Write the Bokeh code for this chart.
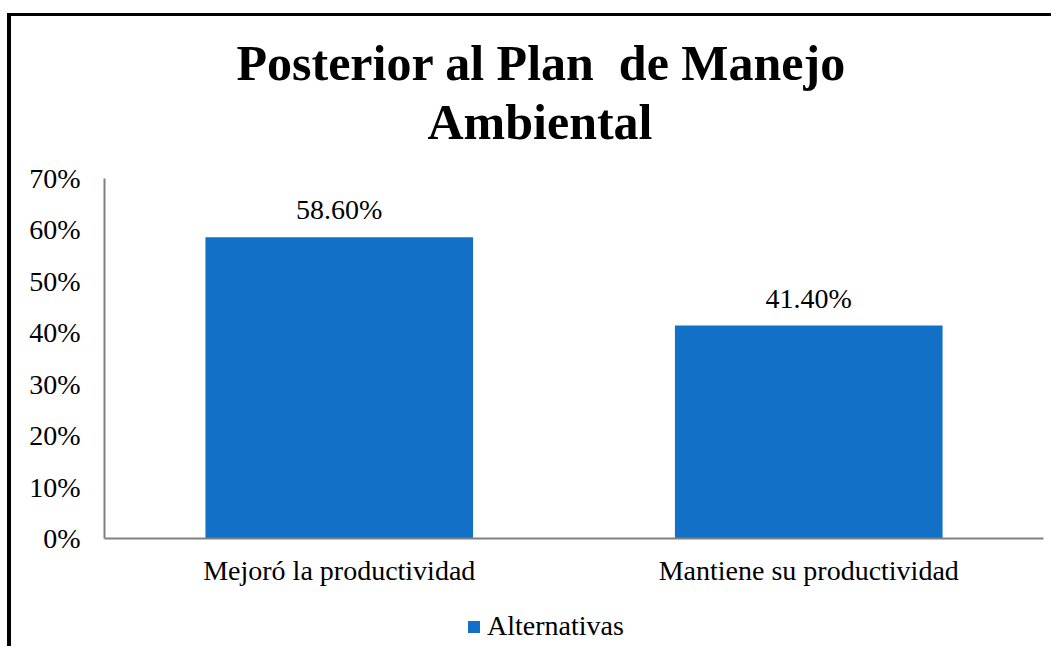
from bokeh.plotting import figure
from bokeh.layouts import column
from bokeh.models import (ColumnDataSource, FactorRange, Range1d, NumeralTickFormatter,
                          LabelSet, Legend, LegendItem, Title, FixedTicker)
from bokeh.embed import file_html
from bokeh.resources import INLINE

categories = ["Mejoró la productividad", "Mantiene su productividad"]
values = [0.586, 0.414]
series_name = "Alternativas"
y_ticks = [0.0, 0.1, 0.2, 0.3, 0.4, 0.5, 0.6, 0.7]

labels = ["{:.2f}%".format(v * 100) for v in values]
src = ColumnDataSource(dict(cat=categories, val=values, lab=labels))

FONT = "Liberation Serif"
BLUE = "#1270C6"
FS = "28px"

p = figure(x_range=FactorRange(*categories, range_padding=0), y_range=Range1d(0, 0.7),
           frame_width=939, frame_height=360, output_backend="svg", toolbar_location=None,
           min_border_left=93, min_border_right=8, min_border_top=162, min_border_bottom=60)

r = p.vbar(x="cat", top="val", width=0.57, source=src, fill_color=BLUE, line_color=None)

p.xgrid.visible = False
p.ygrid.visible = False
p.outline_line_color = None

for ax in (p.xaxis[0], p.yaxis[0]):
    ax.axis_line_color = "#808080"
    ax.axis_line_width = 2
    ax.major_tick_line_color = None
    ax.minor_tick_line_color = None
    ax.major_tick_out = 0
    ax.major_tick_in = 0
    ax.major_label_text_font = FONT
    ax.major_label_text_font_size = FS
    ax.major_label_text_color = "#000000"

p.yaxis[0].ticker = FixedTicker(ticks=y_ticks)
p.yaxis[0].formatter = NumeralTickFormatter(format="0%")
p.yaxis[0].major_label_standoff = 24
p.xaxis[0].major_label_standoff = 16

ls = LabelSet(x="cat", y="val", text="lab", source=src, text_align="center",
              text_baseline="alphabetic", y_offset=18, text_font=FONT,
              text_font_size=FS, text_color="#000000")
p.add_layout(ls)

# spacer between frame and second title line
p.add_layout(Title(text=" ", text_font_size="24px", standoff=0, offset=0), "above")
p.add_layout(Title(text="Ambiental", align="left", text_font=FONT, text_font_size="50px",
                   text_font_style="bold", text_color="#000000", standoff=0, offset=323), "above")
p.add_layout(Title(text="Posterior al Plan\u00a0 de Manejo", align="left", text_font=FONT,
                   text_font_size="50px", text_font_style="bold", text_color="#000000",
                   standoff=2, offset=132), "above")

# legend strip below the chart (proxy bars lie outside its visible y range)
p2 = figure(width=1040, height=48, x_range=p.x_range, y_range=Range1d(1, 2),
            output_backend="svg", toolbar_location=None, min_border=0)
p2.axis.visible = False
p2.grid.visible = False
p2.outline_line_color = None
proxy = p2.vbar(x="cat", top="val", width=0.57, source=src, fill_color=BLUE, line_color=None)
leg = Legend(items=[LegendItem(label=series_name, renderers=[proxy])], location=(362, 4),
             orientation="horizontal", label_text_font=FONT, label_text_font_size=FS,
             label_text_color="#000000", label_height=30,
             glyph_width=15, glyph_height=15, label_standoff=6, border_line_color=None,
             padding=0, margin=0, background_fill_alpha=0)
p2.add_layout(leg)

layout = column(p, p2, spacing=0)
# outer chart border: only the top and left edges show in the reference
layout.styles = {"border-top": "3px solid black", "border-left": "4px solid black",
                 "margin-top": "13px", "margin-left": "7px"}

open("out.html", "w").write(file_html(layout, INLINE))
